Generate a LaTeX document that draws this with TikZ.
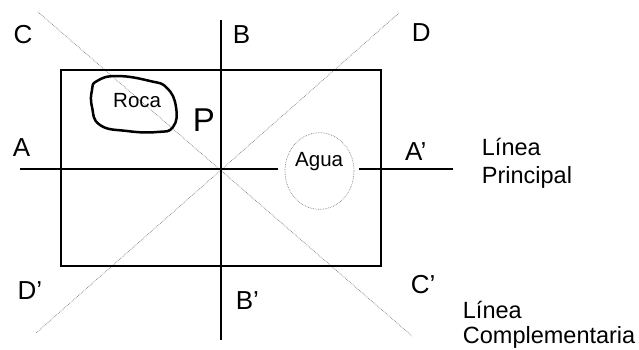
\documentclass[tikz,border=0pt]{standalone}
\usepackage{fontspec}
\setmainfont{Liberation Sans}
\usetikzlibrary{calc}
\tikzset{
  eje/.style={line width=2.4pt},
  guia/.style={densely dotted,line width=0.7pt,gray},
  letra/.style={anchor=base west,inner sep=0pt,font=\fontsize{26}{30}\selectfont},
  rotulo/.style={anchor=base west,inner sep=0pt,font=\fontsize{20.5}{24}\selectfont},
  leyenda/.style={anchor=base west,inner sep=0pt,align=left,font=\fontsize{23.5}{28.3}\selectfont}
}
\begin{document}
\begin{tikzpicture}[x=1pt,y=-1pt]
 \useasboundingbox (0,0) rectangle (639,349);
 \coordinate (A) at (20,169); \coordinate (Ap) at (453,169); \coordinate (B) at (221,20); \coordinate (Bp) at (221,340);
 \coordinate (C) at (38,12); \coordinate (Cp) at (412,336); \coordinate (D) at (399,13); \coordinate (Dp) at (36,333);
 \coordinate (a1) at (278,169); \coordinate (a2) at (359,169);
 % lineas guia
 \draw[guia] (C)--(Cp); \draw[guia] (D)--(Dp);
 \draw[guia] (319.5,171) ellipse [x radius=34.5,y radius=38.3];
 % terreno y ejes
 \draw[eje] (61,70) rectangle (381,266);
 \draw[eje] (B)--(Bp); \draw[eje] (A)--(a1); \draw[eje] (a2)--(Ap);
 \draw[line width=2.5pt] plot[smooth cycle,tension=0.8] coordinates {(92,90) (97,81) (117,76) (150,81) (167,88) (176,107) (173,127) (157,132) (127,131) (100,125) (92,107)};
 \node[rotulo] (roca) at (113,107.7) {Roca};
 \node[rotulo] (agua) at (295,166.7) {Agua};
 \node[letra,font=\fontsize{33}{36}\selectfont] (p) at (192.7,131.7) {P};
 % letras
 \node[letra] (lc) at (13.3,43.5) {C}; \node[letra] (lb) at (232.7,43.3) {B}; \node[letra] (ld) at (411.7,41.7) {D};
 \node[letra] (la) at (12.7,156.7) {A}; \node[letra] (lap) at (405,160.7) {A’};
 \node[letra] (ldp) at (17.3,299.3) {D’}; \node[letra] (lbp) at (235.7,309.3) {B’}; \node[letra] (lcp) at (410.7,293.3) {C’};
 \node[leyenda] (princ) at (481.7,183.3) {Línea\\Principal};
 \node[leyenda,font=\fontsize{23.5}{25}\selectfont] (compl) at (462.7,343.3) {Línea\\Complementaria};
\end{tikzpicture}
\end{document}
